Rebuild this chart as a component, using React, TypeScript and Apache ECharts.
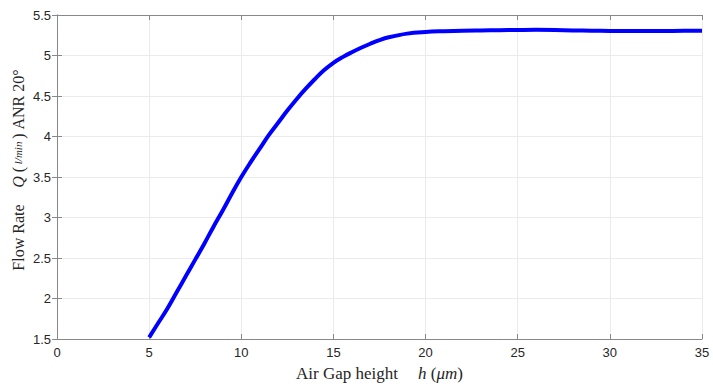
import React, { useEffect, useRef } from "react";
import * as echarts from "echarts";

const gapHeights = [5, 5.5, 6, 6.5, 7, 7.5, 8, 8.5, 9, 9.5, 10, 10.5, 11, 11.5, 12, 12.5, 13, 13.5, 14, 14.5, 15, 15.5, 16, 16.5, 17, 17.5, 18, 19, 20, 21, 22, 23, 24, 25, 26, 27, 28, 29, 30, 31, 32, 33, 34, 35];
const flowRates = [1.52, 1.7, 1.88, 2.08, 2.28, 2.48, 2.68, 2.89, 3.09, 3.3, 3.5, 3.68, 3.85, 4.02, 4.17, 4.32, 4.46, 4.59, 4.71, 4.82, 4.91, 4.98, 5.04, 5.095, 5.145, 5.19, 5.225, 5.27, 5.29, 5.3, 5.307, 5.31, 5.312, 5.315, 5.317, 5.315, 5.31, 5.306, 5.303, 5.302, 5.302, 5.303, 5.305, 5.305];

const xTicks = { min: 0, max: 35, interval: 5 };
const yTicks = { min: 1.5, max: 5.5, interval: 0.5 };

const AXIS_COLOR = "#888888";
const GRID_COLOR = "#ebebeb";
const LABEL_COLOR = "#262626";
const SERIF = "'Liberation Serif', 'DejaVu Serif', serif";
const SANS = "'Liberation Sans', Arial, sans-serif";
const NB = "\u00a0";

export default function App() {
  const ref = useRef<HTMLDivElement>(null);
  useEffect(() => {
    if (!ref.current) return;
    const chart = echarts.init(ref.current, null, { renderer: "svg" });
    const data = gapHeights.map((x, i) => [x, flowRates[i]]);
    const baseAxis = {
      axisLine: { show: true, lineStyle: { color: AXIS_COLOR, width: 1 } },
      axisTick: { show: true, inside: true, length: 5, lineStyle: { color: AXIS_COLOR } },
    };
    chart.setOption({
      animation: false,
      backgroundColor: "#ffffff",
      grid: { left: 57, right: 11, top: 15, bottom: 45, containLabel: false },
      xAxis: [
        {
          type: "value",
          ...xTicks,
          ...baseAxis,
          axisLabel: { color: LABEL_COLOR, fontFamily: SANS, fontSize: 13, margin: 7 },
          splitLine: { show: true, lineStyle: { color: GRID_COLOR, width: 1 } },
          name: "{a|Air Gap height}" + NB.repeat(6) + "{b|h}{a|" + NB + "(}{b|μm}{a|)}",
          nameLocation: "middle",
          nameGap: 26,
          nameTextStyle: {
            rich: {
              a: { fontFamily: SERIF, fontSize: 17, color: LABEL_COLOR },
              b: { fontFamily: SERIF, fontSize: 17, fontStyle: "italic", color: LABEL_COLOR },
            },
          },
        },
        {
          type: "value",
          position: "top",
          ...xTicks,
          ...baseAxis,
          axisLabel: { show: false },
          splitLine: { show: false },
        },
      ],
      yAxis: [
        {
          type: "value",
          ...yTicks,
          ...baseAxis,
          axisLabel: { color: LABEL_COLOR, fontFamily: SANS, fontSize: 13, margin: 6 },
          splitLine: { show: true, lineStyle: { color: GRID_COLOR, width: 1 } },
        },
        {
          type: "value",
          position: "right",
          ...yTicks,
          ...baseAxis,
          axisLabel: { show: false },
          splitLine: { show: false },
        },
      ],
      graphic: [
        {
          type: "text",
          x: 18,
          y: 170,
          rotation: Math.PI / 2,
          style: {
            text: "{a|Flow Rate}" + NB.repeat(5) + "{b|Q}{a|" + NB + "(}{s|" + NB + "l/min" + NB + "}{a|)" + NB + "ANR 20°}",
            align: "center",
            verticalAlign: "middle",
            rich: {
              a: { fontFamily: SERIF, fontSize: 16, fill: LABEL_COLOR },
              b: { fontFamily: SERIF, fontSize: 16, fontStyle: "italic", fill: LABEL_COLOR },
              s: { fontFamily: SERIF, fontSize: 11, fontStyle: "italic", fill: LABEL_COLOR },
            },
          },
        },
      ],
      series: [
        {
          type: "line",
          data,
          smooth: 0.4,
          showSymbol: false,
          symbol: "none",
          lineStyle: { color: "#0000ff", width: 4 },
          itemStyle: { color: "#0000ff" },
        },
      ],
    });
    return () => chart.dispose();
  }, []);
  return <div ref={ref} style={{ width: 713, height: 387, position: "absolute", left: 0, top: 0 }} />;
}
